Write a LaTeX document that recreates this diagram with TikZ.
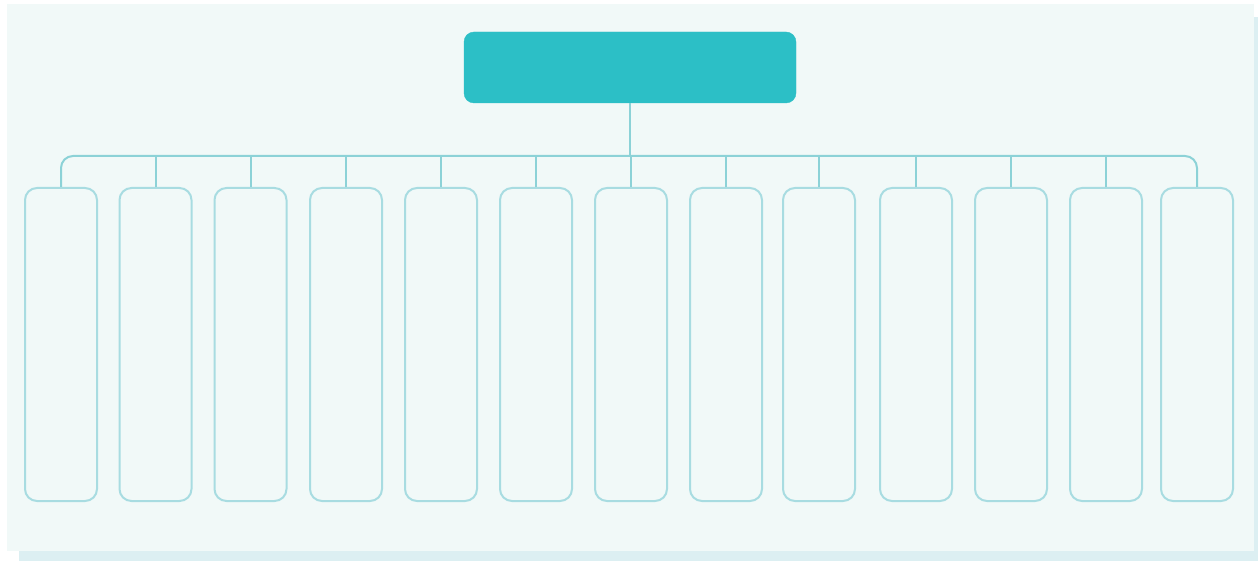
\documentclass[tikz,border=0pt]{standalone}
\usetikzlibrary{positioning}
\definecolor{panel}{HTML}{F1F9F8}
\definecolor{shadowc}{HTML}{DCEFF2}
\definecolor{rootc}{HTML}{2CBFC6}
\definecolor{boxline}{HTML}{A8DCE1}
\definecolor{linkc}{HTML}{8CD2D7}
\tikzset{
  rootbox/.style={draw=rootc, fill=rootc, rounded corners=10pt, minimum width=332pt, minimum height=71pt, inner sep=0pt},
  leafbox/.style={draw=boxline, line width=2pt, fill=panel, rounded corners=12pt, minimum width=72pt, minimum height=313pt, inner sep=0pt, anchor=north},
  link/.style={draw=linkc, line width=2pt}
}
\begin{document}
\begin{tikzpicture}[x=1pt,y=-1pt]
\useasboundingbox (0,0) rectangle (1258,561);
\fill[white] (0,0) rectangle (1258,561);
\fill[shadowc] (19,17) rectangle (1258,561);
\fill[panel] (7,4) rectangle (1254,551);
\node[rootbox] (root) at (630,67.5) {};
\foreach \i/\x in {1/61,2/155.5,3/250.5,4/346,5/441,6/536,7/631,8/726,9/819,10/916,11/1011,12/1106,13/1197}{
  \node[leafbox] (c\i) at (\x,187) {};
}
\coordinate (bus) at (630,156);
\draw[link] (root.south) -- (bus);
\draw[link, rounded corners=12pt] (c1.north) |- (bus) -| (c13.north);
\foreach \i in {2,...,12}{
  \draw[link] (c\i.north) -- (c\i.north |- bus);
}
\end{tikzpicture}
\end{document}
